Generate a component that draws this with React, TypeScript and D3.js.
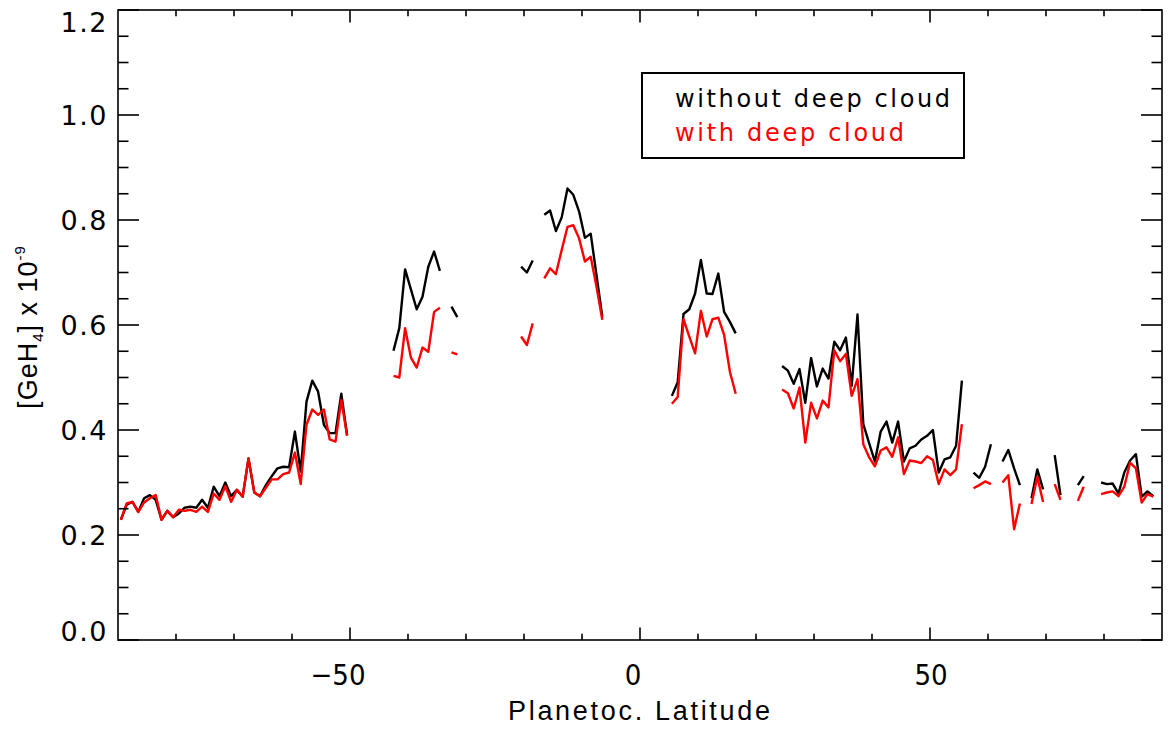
import React from "react";
import * as d3 from "d3";

// Latitude (deg) of the first sample in each contiguous retrieval segment; samples are 1 deg apart.
const segmentStarts = [-89.5, -42.5, -32.5, -20.5, -16.5, 5.5, 24.5, 57.5, 62.5, 67.5, 71.5, 75.5, 79.5];

// GeH4 abundance (x 1e-9) retrieved without a deep cloud, one array per segment.
const withoutDeepCloud: number[][] = [
  [0.229, 0.258, 0.263, 0.244, 0.270, 0.276, 0.267, 0.229, 0.246, 0.234, 0.241, 0.252, 0.254, 0.252, 0.267, 0.252, 0.292, 0.274, 0.300, 0.274,
   0.286, 0.273, 0.346, 0.281, 0.274, 0.295, 0.312, 0.327, 0.330, 0.329, 0.397, 0.321, 0.454, 0.494, 0.473, 0.410, 0.394, 0.394, 0.469, 0.390],
  [0.551, 0.594, 0.706, 0.668, 0.630, 0.654, 0.711, 0.740, 0.703],
  [0.635, 0.615],
  [0.711, 0.700, 0.723],
  [0.810, 0.818, 0.779, 0.805, 0.860, 0.848, 0.816, 0.766, 0.774, 0.695, 0.616],
  [0.465, 0.491, 0.621, 0.630, 0.660, 0.724, 0.660, 0.659, 0.698, 0.625, 0.606, 0.584],
  [0.522, 0.513, 0.488, 0.516, 0.452, 0.537, 0.483, 0.517, 0.498, 0.568, 0.552, 0.576, 0.484, 0.620, 0.411, 0.375,
   0.340, 0.397, 0.416, 0.376, 0.416, 0.340, 0.365, 0.370, 0.382, 0.389, 0.400, 0.319, 0.344, 0.348, 0.370, 0.494],
  [0.319, 0.309, 0.330, 0.373],
  [0.340, 0.362, 0.327, 0.295],
  [0.270, 0.325, 0.287],
  [0.352, 0.276],
  [0.295, 0.312],
  [0.300, 0.297, 0.298, 0.279, 0.319, 0.342, 0.354, 0.273, 0.283, 0.274],
];

// GeH4 abundance (x 1e-9) retrieved with a deep cloud, one array per segment.
const withDeepCloud: number[][] = [
  [0.229, 0.260, 0.263, 0.244, 0.262, 0.270, 0.276, 0.229, 0.246, 0.234, 0.248, 0.246, 0.248, 0.244, 0.254, 0.244, 0.279, 0.267, 0.293, 0.263,
   0.286, 0.273, 0.346, 0.281, 0.274, 0.290, 0.306, 0.306, 0.316, 0.319, 0.357, 0.297, 0.410, 0.439, 0.429, 0.439, 0.382, 0.378, 0.457, 0.389],
  [0.503, 0.500, 0.594, 0.538, 0.519, 0.557, 0.549, 0.625, 0.633],
  [0.548, 0.544],
  [0.578, 0.562, 0.603],
  [0.689, 0.708, 0.697, 0.743, 0.787, 0.790, 0.765, 0.721, 0.730, 0.673, 0.610],
  [0.450, 0.463, 0.611, 0.578, 0.546, 0.627, 0.578, 0.611, 0.614, 0.581, 0.511, 0.469],
  [0.477, 0.470, 0.441, 0.481, 0.376, 0.452, 0.422, 0.456, 0.443, 0.552, 0.531, 0.545, 0.465, 0.497, 0.373, 0.348,
   0.331, 0.361, 0.367, 0.349, 0.386, 0.316, 0.342, 0.340, 0.337, 0.350, 0.343, 0.297, 0.325, 0.314, 0.325, 0.411],
  [0.289, 0.295, 0.302, 0.297],
  [0.300, 0.314, 0.211, 0.260],
  [0.259, 0.311, 0.263],
  [0.297, 0.267],
  [0.265, 0.292],
  [0.278, 0.281, 0.283, 0.274, 0.292, 0.338, 0.327, 0.262, 0.278, 0.273],
];

const xMajorTicks = [-50, 0, 50];
const xMinorTicks = [-80, -70, -60, -40, -30, -20, -10, 10, 20, 30, 40, 60, 70, 80];
const yMajorTicks = [0, 0.2, 0.4, 0.6, 0.8, 1.0, 1.2];
const yMinorTicks = [0.05, 0.1, 0.15, 0.25, 0.3, 0.35, 0.45, 0.5, 0.55, 0.65, 0.7, 0.75, 0.85, 0.9, 0.95, 1.05, 1.1, 1.15];

const legendLabels = ["without deep cloud", "with deep cloud"];
const seriesColors = ["#000000", "#ff0000"];

const W = 1171;
const H = 729;
const left = 118;
const right = 1162;
const top = 10;
const bottom = 640;

const x = d3.scaleLinear().domain([-90, 90]).range([left, right]);
const y = d3.scaleLinear().domain([0, 1.2]).range([bottom, top]);

const line = d3
  .line<[number, number]>()
  .x((d) => x(d[0]))
  .y((d) => y(d[1]));

function segmentPaths(series: number[][]) {
  return series.map((vals, s) => line(vals.map((v, i) => [segmentStarts[s] + i, v] as [number, number])) || "");
}

const sansFont = "'Liberation Sans', Arial, sans-serif";
const wideFont = "'DejaVu Sans', Verdana, sans-serif";
const narrowFont = "'Liberation Sans Narrow', 'DejaVu Sans Condensed', 'Liberation Sans', sans-serif";

// Tick labels at the ends of the y axis are pulled inside the frame.
function yLabelPos(t: number) {
  if (t >= 1.2) return y(t) + 12;
  if (t <= 0) return y(t) - 9;
  return y(t);
}

// Horizontal nudges of the x tick labels.
const xLabelShift: Record<number, number> = { [-50]: -12, 0: -7, 50: 1 };

export default function App() {
  const xMajorLen = 12.6;
  const yMajorLen = 21;
  const fmt = d3.format(".1f");
  return (
    <svg
      width={W}
      height={H}
      style={{ position: "absolute", left: 0, top: 0, display: "block", background: "#fff" }}
    >
      {/* data */}
      <g fill="none" strokeWidth={2.4} strokeLinejoin="round">
        {segmentPaths(withoutDeepCloud).map((d, i) => (
          <path key={"b" + i} d={d} stroke={seriesColors[0]} />
        ))}
        {segmentPaths(withDeepCloud).map((d, i) => (
          <path key={"r" + i} d={d} stroke={seriesColors[1]} />
        ))}
      </g>

      {/* frame and ticks */}
      <g stroke="#000" strokeWidth={1.6} fill="none">
        <rect x={left} y={top} width={right - left} height={bottom - top} />
        {xMajorTicks.concat(xMinorTicks).map((t) => {
          const len = xMajorTicks.includes(t) ? xMajorLen : xMajorLen / 2;
          return (
            <g key={"xt" + t}>
              <line x1={x(t)} x2={x(t)} y1={bottom} y2={bottom - len} />
              <line x1={x(t)} x2={x(t)} y1={top} y2={top + len} />
            </g>
          );
        })}
        {yMajorTicks.concat(yMinorTicks).map((t) => {
          const len = yMajorTicks.includes(t) ? yMajorLen : yMajorLen / 2;
          return (
            <g key={"yt" + t}>
              <line x1={left} x2={left + len} y1={y(t)} y2={y(t)} />
              <line x1={right} x2={right - len} y1={y(t)} y2={y(t)} />
            </g>
          );
        })}
      </g>

      {/* tick labels */}
      <g fontFamily={wideFont} fontSize={27} fill="#000">
        {yMajorTicks.map((t) => (
          <text key={"yl" + t} x={108} y={yLabelPos(t)} dy="0.36em" textAnchor="end" letterSpacing={1.5}>
            {fmt(t)}
          </text>
        ))}
      </g>
      <g fontFamily={narrowFont} fontSize={29} fill="#000">
        {xMajorTicks.map((t) => (
          <text key={"xl" + t} x={x(t) + xLabelShift[t]} y={685} textAnchor="middle">
            {t < 0 ? "\u2212" + Math.abs(t) : String(t)}
          </text>
        ))}
      </g>

      {/* axis titles */}
      <text
        x={639}
        y={720}
        textAnchor="middle"
        fontFamily={sansFont}
        fontSize={27}
        fill="#000"
        textLength={262}
        lengthAdjust="spacing"
      >
        Planetoc. Latitude
      </text>
      <text
        transform="translate(37,327) rotate(-90)"
        textAnchor="middle"
        fontFamily={sansFont}
        fontSize={27}
        letterSpacing={1}
        fill="#000"
      >
        [GeH<tspan fontSize={15} dy={6}>4</tspan>
        <tspan dy={-6}>] x 10</tspan>
        <tspan fontSize={15} dy={-12}>-9</tspan>
      </text>

      {/* legend */}
      <rect x={642} y={73} width={322} height={85} fill="none" stroke="#000" strokeWidth={2} />
      {legendLabels.map((lab, i) => (
        <text
          key={lab}
          x={675}
          y={107 + i * 34}
          fontFamily={wideFont}
          fontSize={24}
          fill={seriesColors[i]}
          textLength={i === 0 ? 275 : 229}
          lengthAdjust="spacing"
        >
          {lab}
        </text>
      ))}
    </svg>
  );
}
